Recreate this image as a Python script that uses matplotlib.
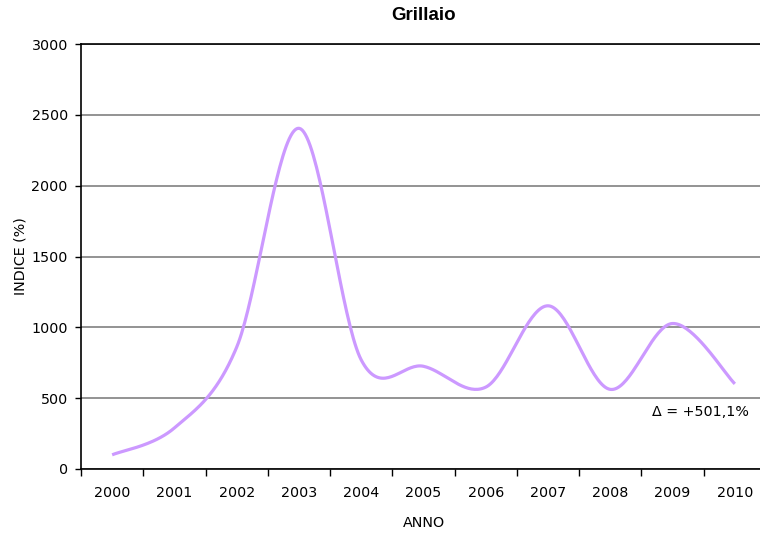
import matplotlib.pyplot as plt
import numpy as np

anni = ['2000', '2001', '2002', '2003', '2004', '2005',
        '2006', '2007', '2008', '2009', '2010']
indice = [100, 290, 860, 2405, 770, 725, 578, 1152, 562, 1027, 601.1]
delta = (indice[-1] - indice[0]) / indice[0] * 100


def smooth(x, y, n=40):
    # Bezier segments with Catmull-Rom control points (Excel-like smoothing)
    x = np.asarray(x, float)
    y = np.asarray(y, float)
    px = np.concatenate([[x[0]], x, [x[-1]]])
    py = np.concatenate([[y[0]], y, [y[-1]]])
    xs, ys = [], []
    t = np.linspace(0, 1, n)
    for i in range(len(x) - 1):
        p0 = np.array([px[i + 1], py[i + 1]])
        p3 = np.array([px[i + 2], py[i + 2]])
        c1 = p0 + (np.array([px[i + 2], py[i + 2]]) - np.array([px[i], py[i]])) / 6
        c2 = p3 - (np.array([px[i + 3], py[i + 3]]) - np.array([px[i + 1], py[i + 1]])) / 6
        b = ((1 - t) ** 3)[:, None] * p0 + (3 * (1 - t) ** 2 * t)[:, None] * c1 \
            + (3 * (1 - t) * t ** 2)[:, None] * c2 + (t ** 3)[:, None] * p3
        xs.extend(b[:, 0])
        ys.extend(b[:, 1])
    return np.array(xs), np.array(ys)


plt.rcParams['font.family'] = 'DejaVu Sans'
fig = plt.figure(figsize=(7.6, 5.37), dpi=100)
ax = fig.add_axes([81 / 760, 1 - 469 / 537, 685 / 760, 425 / 537])

pos = np.arange(len(anni))
sx, sy = smooth(pos, indice)
ax.plot(sx, sy, color='#CC99FF', linewidth=2.3, solid_capstyle='butt', zorder=3)

ax.set_xlim(-0.5, len(anni) - 0.5)
ax.set_ylim(0, 3000)
ax.set_yticks(np.arange(0, 3001, 500))
ax.yaxis.grid(True, color='#808080', linewidth=1.2)
ax.set_axisbelow(True)

# ticks between categories, labels at category centers
ax.set_xticks(np.arange(-0.5, len(anni), 1))
ax.set_xticklabels([])
ax.set_xticks(pos, minor=True)
ax.set_xticklabels(anni, minor=True)
ax.tick_params(axis='x', which='major', direction='out', length=5, width=1)
ax.tick_params(axis='x', which='minor', length=0, pad=12, labelsize=10.3)
ax.tick_params(axis='y', direction='out', length=4, width=1, pad=5.5, labelsize=10.3)

for s in ['left', 'bottom', 'top']:
    ax.spines[s].set_color('black')
    ax.spines[s].set_linewidth(1.2)
ax.spines['right'].set_visible(False)

ax.set_xlabel('ANNO', fontsize=10.3, labelpad=12)
ax.set_ylabel('INDICE (%)', fontsize=10.3, labelpad=3)
ax.set_title('Grillaio', fontsize=13.5, fontweight='bold',
             family='Liberation Sans', pad=17, x=(424 - 81) / 685)

ax.text(10.22, 400, 'Δ = +' + ('%.1f' % delta).replace('.', ',') + '%',
        ha='right', va='center', fontsize=10.3)

fig.savefig('out.png', dpi=100)
